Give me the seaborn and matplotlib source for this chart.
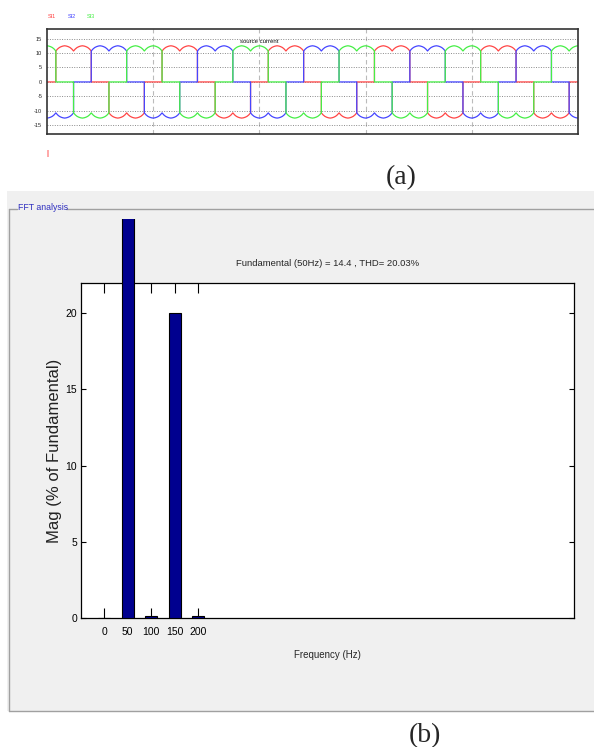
import numpy as np
import pandas as pd
import matplotlib
matplotlib.use("Agg")
import matplotlib.pyplot as plt
import seaborn as sns
from matplotlib.patches import Rectangle
from matplotlib.lines import Line2D
from matplotlib.transforms import Bbox, TransformedBbox

# ---------------- data: (a) three-phase source current ----------------
phase_labels = ["SI1", "SI2", "SI3"]
phase_colors = ["#ff4646", "#4646ff", "#46ee46"]
# conduction state of each phase in each sixth of a cycle (+1 top, 0 off, -1 bottom)
si1_states = [0, 1, 1, 0, -1, -1]
si2_states = [-1, -1, 0, 1, 1, 0]
si3_states = [1, 0, -1, -1, 0, 1]
cycles_shown = 5
# current magnitude (A) across one conducting sixth
ripple_profile = [10.7, 11.4, 11.9, 12.2, 12.4, 12.5, 12.4, 12.2, 11.9, 11.4, 10.7]
current_yticks = [15, 10, 5, 0, -5, -10, -15]
current_title = "source current"

# ---------------- data: (b) FFT analysis ----------------
harmonic_freq = [0, 50, 100, 150, 200]
harmonic_mag = [0.0, 100.0, 0.12, 20.0, 0.12]
fft_yticks = [0, 5, 10, 15, 20]
fft_title = "Fundamental (50Hz) = 14.4 , THD= 20.03%"
fft_xlabel = "Frequency (Hz)"
fft_ylabel = "Mag (% of Fundamental)"

# ---------------- build long-form waveform table ----------------
rows = []
n_seg = 6 * cycles_shown + 1
for name, states in zip(phase_labels, [si1_states, si2_states, si3_states]):
    for k in range(n_seg):
        s = states[k % 6]
        ts = np.linspace((k - 0.5) / 6, (k + 0.5) / 6, len(ripple_profile))
        for t, m in zip(ts, ripple_profile):
            rows.append((name, t, s * m))
wave = pd.DataFrame(rows, columns=["phase", "cycle", "current"])
fft = pd.DataFrame({"freq": harmonic_freq, "mag": harmonic_mag})

# ---------------- figure ----------------
sns.set_theme(style="white")
plt.rcParams["font.family"] = ["Liberation Sans", "DejaVu Sans"]
W, H = 594, 747
fig = plt.figure(figsize=(W / 100, H / 100), dpi=100)
fig.patch.set_facecolor("white")

def fx(px):
    return px / W

def fy(py):
    return 1 - py / H

# ---- (a) waveform axes ----
ax1 = fig.add_axes([fx(47), fy(134), fx(578) - fx(47), fy(29) - fy(134)])
sns.lineplot(data=wave, x="cycle", y="current", hue="phase", hue_order=phase_labels,
             palette=phase_colors, sort=False, estimator=None, legend=False,
             linewidth=0.9, ax=ax1)
ax1.set_xlim(0, cycles_shown)
ax1.set_ylim(-18, 18.3)
ax1.set_xticks([1, 2, 3, 4])
ax1.set_xticklabels([])
ax1.set_yticks(current_yticks)
ax1.set_yticklabels([str(v) for v in current_yticks])
ax1.tick_params(length=0, labelsize=4, pad=3.5, colors="#222222")
ax1.set_xlabel("")
ax1.set_ylabel("")
ax1.yaxis.grid(True, linestyle=(0, (1, 1.5)), color="#8a8a8a", linewidth=0.7)
ax1.xaxis.grid(True, linestyle=(0, (4, 3)), color="#bbbbbb", linewidth=0.8)
ax1.set_axisbelow(True)
for sp in ax1.spines.values():
    sp.set_color("#333333")
    sp.set_linewidth(1.2)
ax1.text(0.4, 0.885, current_title, transform=ax1.transAxes, ha="center", va="center",
         fontsize=4.3, color="#111111")
for lbl, col, xpx in zip(phase_labels, phase_colors, [48, 68, 87]):
    fig.text(fx(xpx), fy(17), lbl, color=col, fontsize=4, ha="left", va="center")
fig.patches.append(Rectangle((fx(47), fy(157)), fx(2), 7 / H, transform=fig.transFigure,
                             facecolor="#ffaaaa", edgecolor="none"))
fig.text(fx(401), fy(178), "(a)", family="Liberation Serif", fontsize=20,
         ha="center", va="center")

# ---- (b) grey FFT panel ----
fig.patches.append(Rectangle((fx(7), fy(711)), 1 - fx(7), fy(191) - fy(711),
                             transform=fig.transFigure, facecolor="#f0f0f0",
                             edgecolor="none", zorder=-10))
box_col = "#a0a0a0"
for xs, ys in [((9, 17), (209, 209)), ((66, 594), (209, 209)),
               ((9, 9), (209, 711)), ((9, 594), (711, 711))]:
    fig.lines.append(Line2D([fx(xs[0]), fx(xs[1])], [fy(ys[0]), fy(ys[1])],
                            transform=fig.transFigure, color=box_col, linewidth=1.0,
                            zorder=-5))
fig.text(fx(18), fy(208), "FFT analysis", color="#3030c0", fontsize=6.3,
         ha="left", va="center")

ax2 = fig.add_axes([fx(80.7), fy(618.3), fx(574) - fx(80.7), fy(282.7) - fy(618.3)])
ax2.set_facecolor("white")
sns.barplot(data=fft, x="freq", y="mag", native_scale=True, orient="x", width=0.5,
            color="#00008f", saturation=1, edgecolor="black", linewidth=0.8,
            errorbar=None, ax=ax2)
ax2.set_xlim(-50, 1000)
ax2.set_ylim(0, 22)
ax2.set_xticks(harmonic_freq)
ax2.set_xticklabels([str(v) for v in harmonic_freq])
ax2.set_yticks(fft_yticks)
ax2.set_yticklabels([str(v) for v in fft_yticks])
ax2.tick_params(axis="x", direction="in", length=7.5, width=0.8, top=True, bottom=True,
                labelsize=7.5, pad=6.5, colors="black")
ax2.tick_params(axis="y", direction="in", length=3.5, width=0.8, left=True, right=True,
                labelsize=7.5, pad=2.5, colors="black")
for sp in ax2.spines.values():
    sp.set_color("black")
    sp.set_linewidth(0.9)
ax2.set_xlabel(fft_xlabel, fontsize=7)
ax2.xaxis.set_label_coords(0.5, -0.095)
ax2.set_ylabel(fft_ylabel, fontsize=12, color="#222222")
ax2.yaxis.set_label_coords(-0.037, 0.5)
ax2.set_title(fft_title, fontsize=6.8, y=(618.3 - 263) / 335.6, va="center", pad=0)

# the fundamental bar runs past the top of the axes (as in the FFT viewer)
clip = TransformedBbox(Bbox([[fx(80.7), fy(618.3)], [fx(574), fy(219)]]), fig.transFigure)
for p in ax2.patches:
    p.set_clip_path(None)
    p.set_clip_box(clip)
    p.set_zorder(3)

fig.text(fx(425), fy(736), "(b)", family="Liberation Serif", fontsize=20,
         ha="center", va="center")

fig.savefig("out.png", dpi=100)
